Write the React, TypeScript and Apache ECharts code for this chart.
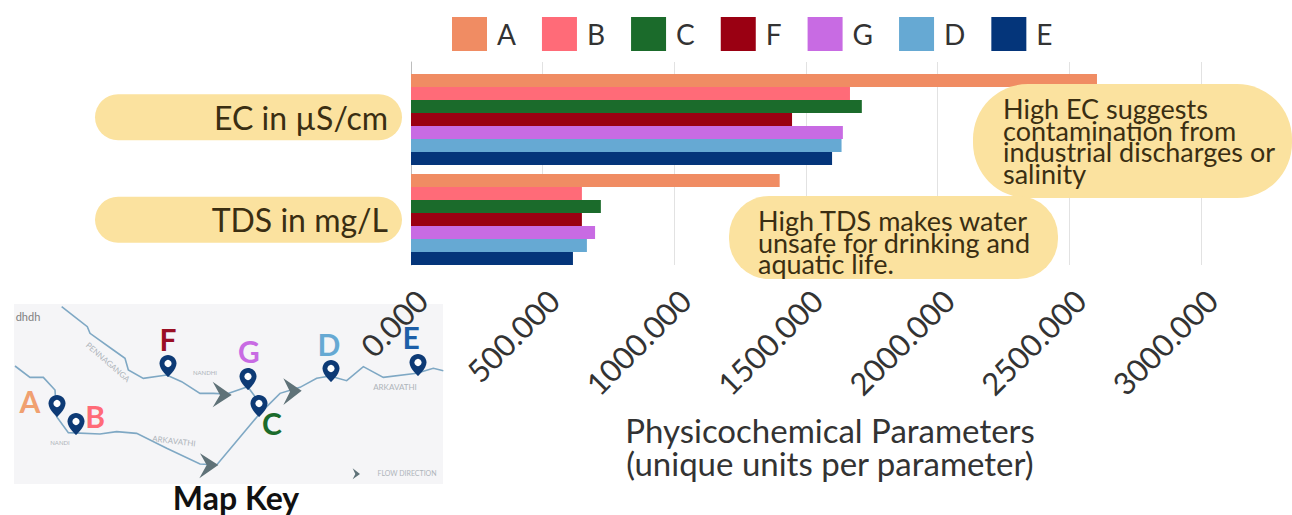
import React, { useEffect, useRef } from "react";
import * as echarts from "echarts";

const categories = ["EC in µS/cm", "TDS in mg/L"];
const sites = ["A", "B", "C", "F", "G", "D", "E"];
const colors = ["#F08C63", "#FF6B78", "#1B6B2B", "#9A0012", "#C86BE3", "#66A9D3", "#04357A"];
const valuesA = [2605, 1400];
const valuesB = [1667, 649];
const valuesC = [1712, 721];
const valuesF = [1447, 649];
const valuesG = [1640, 699];
const valuesD = [1635, 668];
const valuesE = [1599, 615];
const allValues = [valuesA, valuesB, valuesC, valuesF, valuesG, valuesD, valuesE];

const FONT = "Lato";
const PILL = "#FBE29F";

echarts.graphic.registerShape(
  "mapPin",
  echarts.graphic.extendPath(
    "M10 0C4.5 0 0 4.5 0 10C0 17 10 26 10 26C10 26 20 17 20 10C20 4.5 15.5 0 10 0Z",
    {}
  )
);

const z = (pts: number[][]) => pts.map(([x, y]) => [x / 3, y / 3 + 290]);

const riverPaths = [
  [[185, 50], [230, 85], [262, 110], [270, 130], [340, 180], [375, 205], [385, 240], [430, 265], [500, 255], [545, 275], [600, 310], [640, 310], [680, 312], [743, 290], [780, 340]],
  [[45, 228], [90, 262], [130, 262], [165, 300], [170, 380], [205, 428], [300, 432], [350, 425], [410, 430], [500, 475], [600, 522], [650, 525], [780, 370], [840, 310], [900, 292], [950, 265], [990, 258], [1040, 272], [1090, 230], [1150, 262], [1250, 250], [1300, 235], [1330, 242]],
];
const chevrons = [
  [[638, 275], [695, 315], [638, 352], [660, 315]],
  [[850, 265], [905, 302], [850, 345], [870, 305]],
  [[600, 490], [655, 525], [598, 565], [620, 525]],
  [[1058, 535], [1080, 552], [1058, 568], [1066, 552]],
];
const pins = [[57, 405], [76, 423], [168, 365], [248, 378], [259, 405], [331, 370], [418, 364]];
const mapLetters = [
  { t: "A", x: 30, y: 401, c: "#F0A070" },
  { t: "B", x: 95, y: 416, c: "#FF6B78" },
  { t: "F", x: 168, y: 339, c: "#9A0F24" },
  { t: "G", x: 249, y: 351, c: "#C86BE3" },
  { t: "C", x: 272, y: 423, c: "#1B6B2B" },
  { t: "D", x: 329, y: 344, c: "#66A9D3" },
  { t: "E", x: 411, y: 337, c: "#1D5FA8" },
];
const mapNotes = [
  { t: "PENNAGANGA", x: 108, y: 362, r: -0.72, s: 8 },
  { t: "ARKAVATHI", x: 174, y: 441, r: -0.12, s: 8 },
  { t: "ARKAVATHI", x: 395, y: 387, r: 0, s: 8 },
  { t: "NANDHI", x: 205, y: 372, r: 0, s: 6 },
  { t: "NANDI", x: 60, y: 442, r: 0, s: 6 },
  { t: "FLOW DIRECTION", x: 407, y: 473, r: 0, s: 7 },
];

const mapGraphics: any[] = [
  { type: "rect", z: 0, shape: { x: 14, y: 304, width: 429, height: 180 }, style: { fill: "#F5F5F7" } },
  ...riverPaths.map((p) => ({ type: "polyline", z: 0, shape: { points: z(p) }, style: { stroke: "#7FA8C4", lineWidth: 1.6, fill: "none" } })),
  ...chevrons.map((p) => ({ type: "polygon", z: 0, shape: { points: z(p) }, style: { fill: "#5F7278" } })),
  ...mapNotes.map((n) => ({
    type: "text", z: 0, x: n.x, y: n.y, rotation: n.r,
    style: { text: n.t, fill: "#AEB4BA", font: `${n.s}px ${FONT}`, textAlign: "center", textVerticalAlign: "middle" },
  })),
  {
    type: "text", z: 0, x: 28, y: 316,
    style: { text: "dhdh", fill: "#808080", font: `11px ${FONT}`, textAlign: "center", textVerticalAlign: "middle" },
  },
  ...pins.flatMap(([x, y]) => [
    { type: "mapPin", z: 0, x: x - 8.5, y: y - 10, scaleX: 0.85, scaleY: 0.85, style: { fill: "#0D3A75" } },
    { type: "circle", z: 0, shape: { cx: x, cy: y - 1.5, r: 3.6 }, style: { fill: "#fff" } },
  ]),
  ...mapLetters.map((l) => ({
    type: "text", z: 0, x: l.x, y: l.y,
    style: { text: l.t, fill: l.c, font: `700 30px ${FONT}`, textAlign: "center", textVerticalAlign: "middle" },
  })),
  {
    type: "text", z: 0, x: 236, y: 497,
    style: { text: "Map Key", fill: "#111", font: `700 32px ${FONT}`, textAlign: "center", textVerticalAlign: "middle" },
  },
];

const callouts: any[] = [
  { type: "rect", z: 10, shape: { x: 973, y: 84, width: 319, height: 114, r: 55 }, style: { fill: PILL } },
  {
    type: "text", z: 11, x: 1003, y: 98,
    style: { text: "High EC suggests\ncontamination from\nindustrial discharges or\nsalinity", fill: "#3A2E12", font: `27px ${FONT}`, lineHeight: 21.5, textAlign: "left", textVerticalAlign: "top" },
  },
  { type: "rect", z: 10, shape: { x: 729, y: 196, width: 329, height: 83, r: 40 }, style: { fill: PILL } },
  {
    type: "text", z: 11, x: 758, y: 210,
    style: { text: "High TDS makes water\nunsafe for drinking and\naquatic life.", fill: "#3A2E12", font: `27px ${FONT}`, lineHeight: 21.5, textAlign: "left", textVerticalAlign: "top" },
  },
];

export default function App() {
  const ref = useRef<HTMLDivElement>(null);
  useEffect(() => {
    const chart = echarts.init(ref.current!, undefined, { renderer: "svg" });
    chart.setOption({
      animation: false,
      backgroundColor: "#fff",
      textStyle: { fontFamily: FONT },
      legend: {
        left: 447, top: 12, itemWidth: 35, itemHeight: 34, itemGap: 26,
        icon: "rect",
        data: sites,
        textStyle: { fontSize: 28, color: "#333", fontFamily: FONT, padding: [0, 0, 0, 5] },
      },
      grid: [
        { left: 411, width: 790, top: 69.5, height: 200 },
        { left: 411, width: 790, top: 62, height: 203 },
        { left: 411, width: 790, top: 66, height: 205 },
      ],
      xAxis: [
        { gridIndex: 0, type: "value", min: 0, max: 3000, show: false },
        {
          gridIndex: 1, type: "value", min: 0, max: 3000, interval: 500,
          axisLine: { show: false }, axisTick: { show: false },
          splitLine: { show: true, lineStyle: { color: "#E2E2E2", width: 1 } },
          axisLabel: {
            rotate: 45, margin: 19, fontSize: 31, color: "#333", fontFamily: FONT,
            verticalAlign: "top",
            formatter: (v: number) => v.toFixed(3),
          },
          name: "Physicochemical Parameters\n(unique units per parameter)",
          nameLocation: "middle", nameGap: 148,
          nameTextStyle: { fontSize: 33, color: "#333", fontFamily: FONT, lineHeight: 33, padding: [0, 0, 0, 48] },
        },
        { gridIndex: 2, type: "value", min: 0, max: 3000, show: false },
      ],
      yAxis: [
        { gridIndex: 0, type: "category", inverse: true, data: categories, show: false },
        {
          gridIndex: 1, type: "category", inverse: true, data: categories,
          axisLine: { show: true, lineStyle: { color: "#BDBDBD" } }, axisTick: { show: false },
          axisLabel: { show: false }, splitLine: { show: false },
        },
        {
          gridIndex: 2, type: "category", inverse: true, data: categories,
          axisLine: { show: false }, axisTick: { show: false },
          axisLabel: {
            margin: 9, fontSize: 32, color: "#3A2E12", fontFamily: FONT, align: "right",
            backgroundColor: PILL, borderRadius: 23, width: 279, height: 46, lineHeight: 46,
            padding: [0, 14, 0, 14],
          },
        },
      ],
      series: sites.map((name, i) => ({
        name, type: "bar", xAxisIndex: 0, yAxisIndex: 0,
        barWidth: 13, barGap: "0%",
        data: allValues[i],
        itemStyle: { color: colors[i] },
      })),
      graphic: [...mapGraphics, ...callouts],
    });
    return () => chart.dispose();
  }, []);
  return <div ref={ref} style={{ position: "absolute", left: 0, top: 0, width: 1292, height: 515 }} />;
}
